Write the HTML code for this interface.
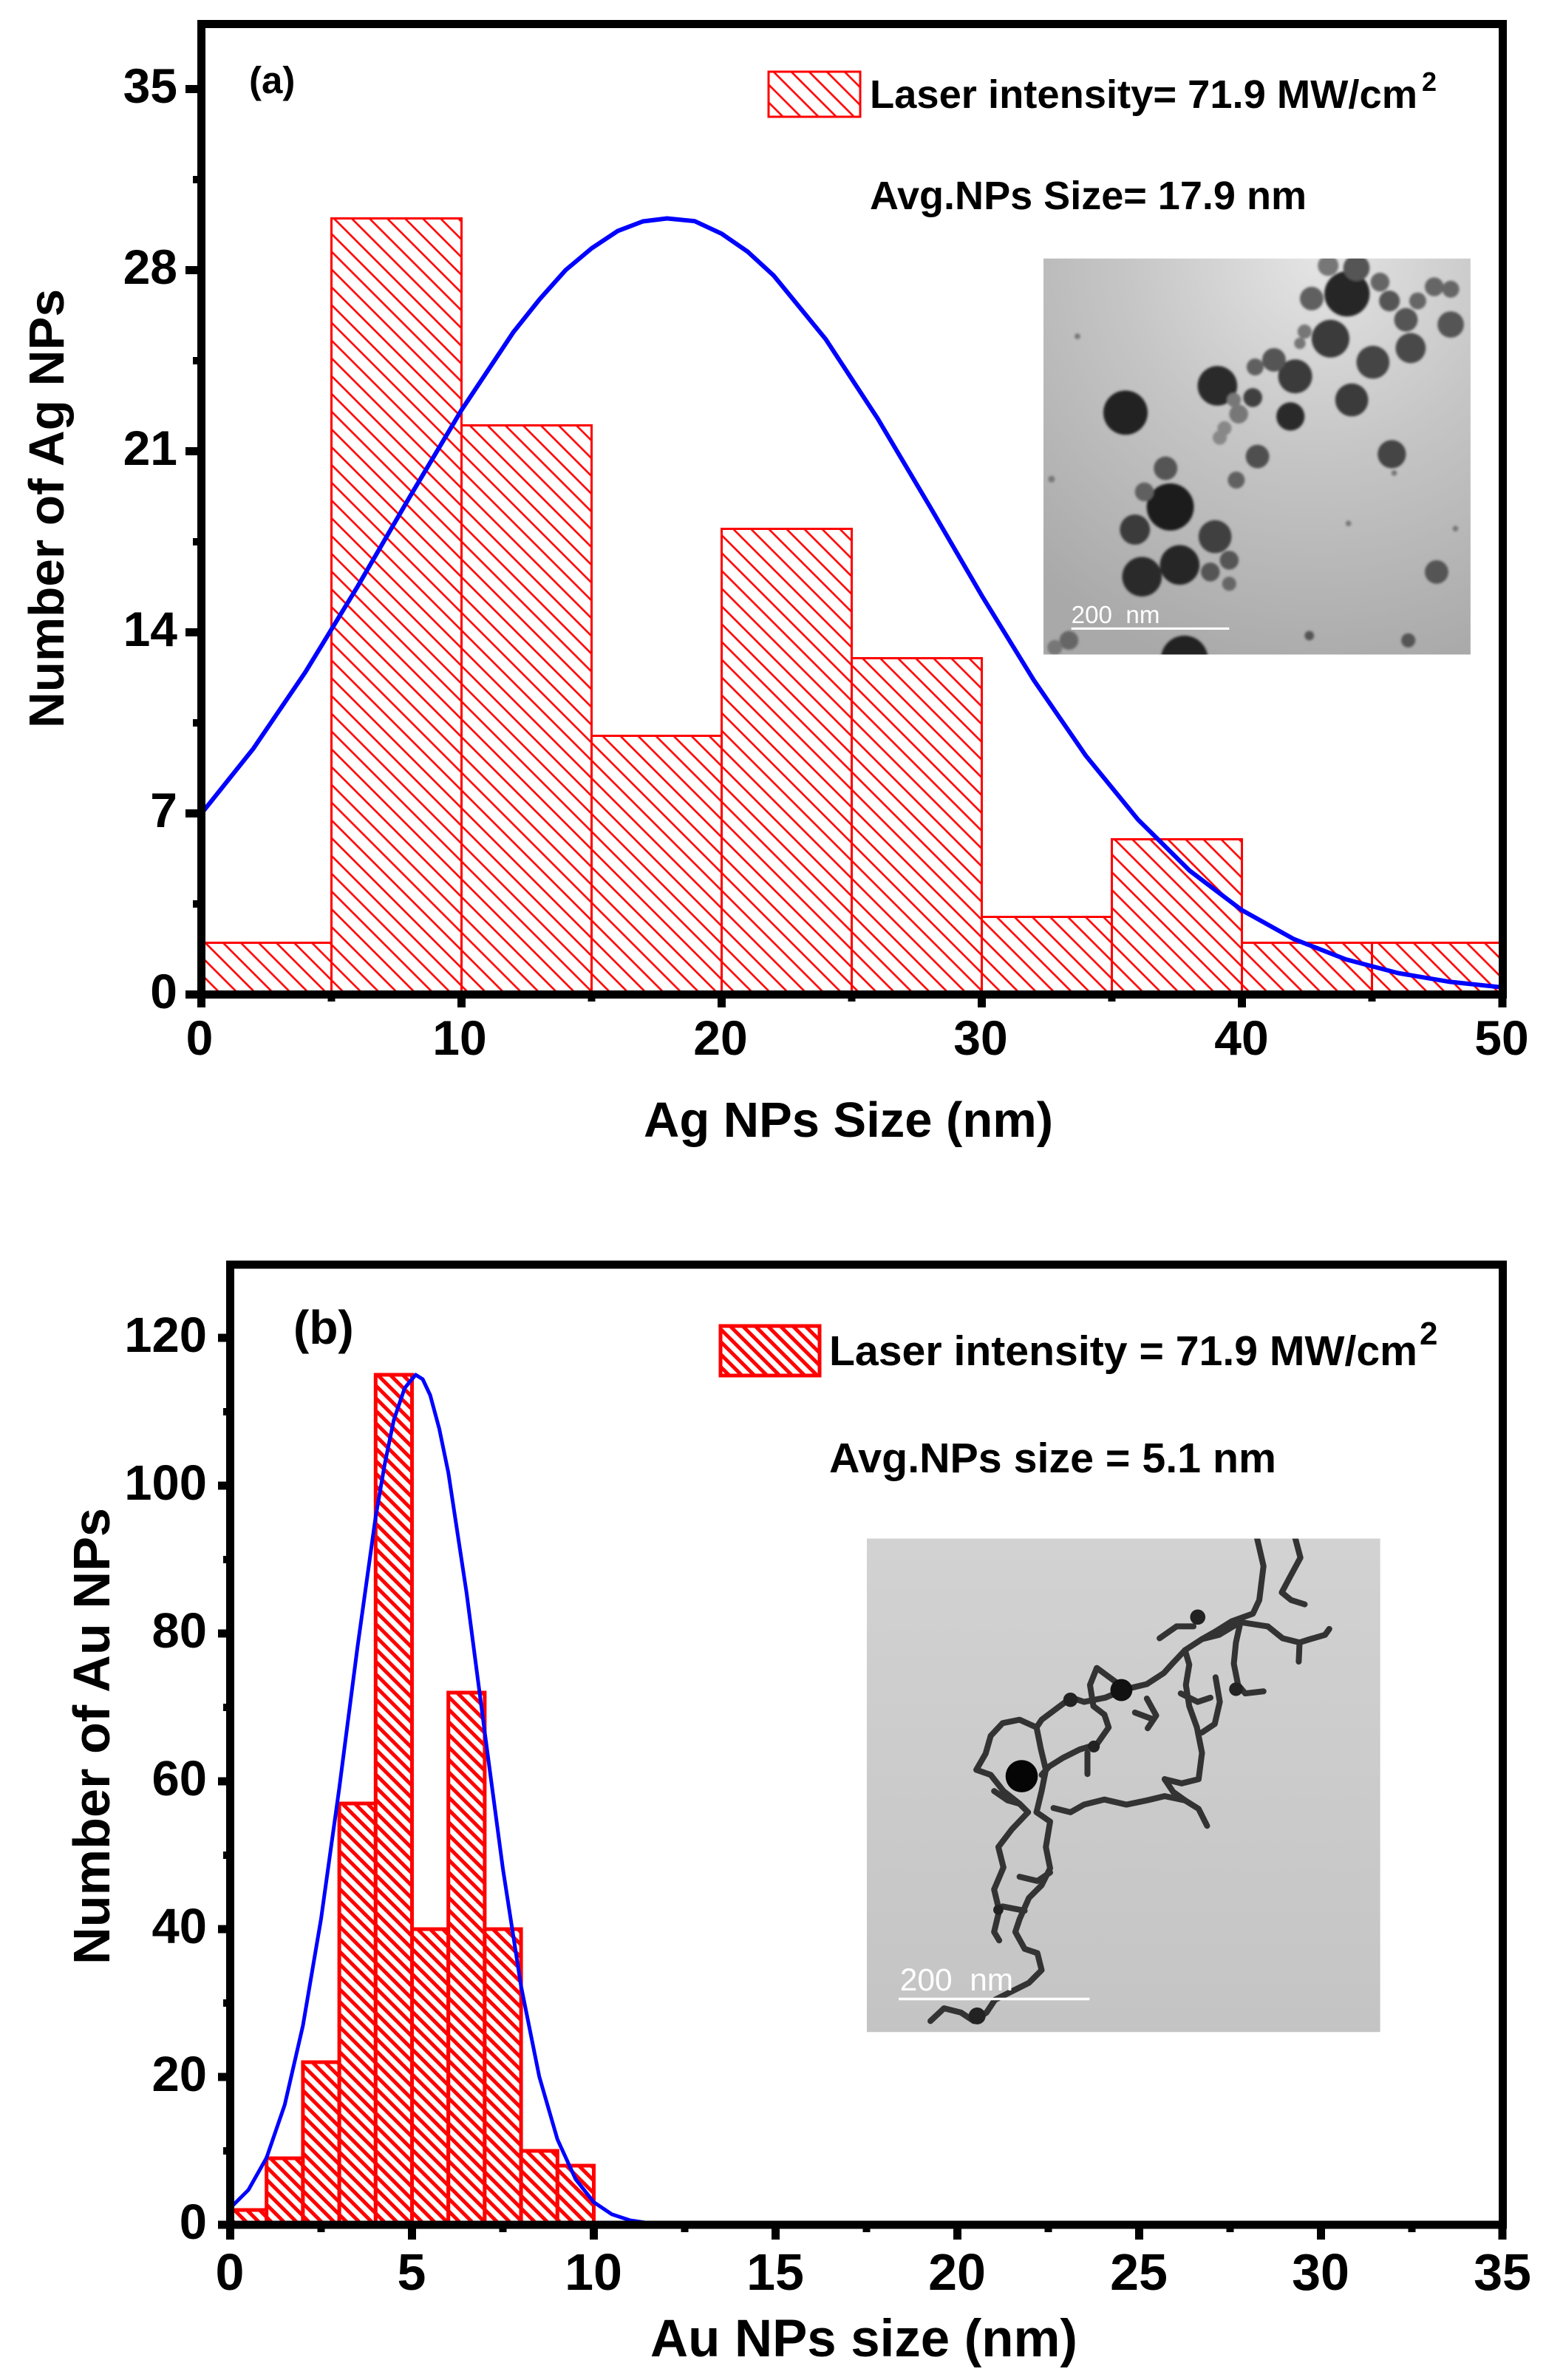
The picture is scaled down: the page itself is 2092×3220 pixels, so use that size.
<!DOCTYPE html>
<html>
<head>
<meta charset="utf-8">
<style>
html,body{margin:0;padding:0;background:#fff;}
svg{display:block;}
text{font-family:"Liberation Sans",Arial,sans-serif;}
</style>
</head>
<body>
<svg width="2092" height="3220" viewBox="0 0 2092 3220" xmlns="http://www.w3.org/2000/svg">
<defs>
  <pattern id="ha" patternUnits="userSpaceOnUse" width="17" height="17" patternTransform="rotate(-45)">
    <rect width="17" height="17" fill="#fff"/>
    <line x1="8.5" y1="0" x2="8.5" y2="17" stroke="#ff0000" stroke-width="2.6"/>
  </pattern>
  <pattern id="hb" patternUnits="userSpaceOnUse" width="12" height="12" patternTransform="rotate(-45)">
    <rect width="12" height="12" fill="#fff"/>
    <line x1="6" y1="0" x2="6" y2="12" stroke="#ff0000" stroke-width="5"/>
  </pattern>
  <radialGradient id="bga" gradientUnits="userSpaceOnUse" cx="1230" cy="470" r="900">
    <stop offset="0" stop-color="#e4e4e4"/>
    <stop offset="0.45" stop-color="#c6c6c6"/>
    <stop offset="1" stop-color="#a9a9a9"/>
  </radialGradient>
  <linearGradient id="bgb" x1="0" y1="0" x2="0" y2="1">
    <stop offset="0" stop-color="#d2d2d2"/>
    <stop offset="1" stop-color="#c4c4c4"/>
  </linearGradient>
  <clipPath id="ca"><rect x="646" y="470" width="906" height="840"/></clipPath>
  <clipPath id="cb"><rect x="40" y="55" width="1210" height="1163"/></clipPath>
  <filter id="soft" x="-20%" y="-20%" width="140%" height="140%"><feGaussianBlur stdDeviation="2.5"/></filter>
</defs>

<!-- ================= PANEL (a) ================= -->
<g stroke="#ff0000" stroke-width="3" fill="url(#ha)">
  <rect x="272.5" y="1275.5" width="176" height="70"/>
  <rect x="448.5" y="295.5" width="176" height="1050"/>
  <rect x="624.5" y="575.5" width="176" height="770"/>
  <rect x="800.5" y="995.5" width="176" height="350"/>
  <rect x="976.5" y="715.5" width="176" height="630"/>
  <rect x="1152.5" y="890.5" width="176" height="455"/>
  <rect x="1328.5" y="1240.5" width="176" height="105"/>
  <rect x="1504.5" y="1135.5" width="176" height="210"/>
  <rect x="1680.5" y="1275.5" width="176" height="70"/>
  <rect x="1856.5" y="1275.5" width="176" height="70"/>
</g>

<!-- inset a (TEM) -->
<g transform="translate(1000,50) scale(0.6378)">
  <rect x="646" y="470" width="906" height="840" fill="url(#bga)"/>
  <g clip-path="url(#ca)" filter="url(#soft)">
    <circle cx="820" cy="797" r="47" fill="#222"/>
    <circle cx="1015" cy="740" r="42" fill="#2a2a2a"/>
    <circle cx="915" cy="997" r="50" fill="#1a1a1a"/>
    <circle cx="1290" cy="545" r="48" fill="#262626"/>
    <circle cx="1255" cy="640" r="40" fill="#3a3a3a"/>
    <circle cx="1345" cy="690" r="35" fill="#454545"/>
    <circle cx="1180" cy="720" r="36" fill="#3a3a3a"/>
    <circle cx="1170" cy="805" r="30" fill="#2a2a2a"/>
    <circle cx="1300" cy="770" r="35" fill="#3a3a3a"/>
    <circle cx="1385" cy="885" r="30" fill="#454545"/>
    <circle cx="1425" cy="660" r="32" fill="#4a4a4a"/>
    <circle cx="1415" cy="600" r="25" fill="#555"/>
    <circle cx="1510" cy="610" r="28" fill="#555"/>
    <circle cx="1310" cy="490" r="28" fill="#555"/>
    <circle cx="1135" cy="685" r="25" fill="#555"/>
    <circle cx="1095" cy="700" r="18" fill="#606060"/>
    <circle cx="1090" cy="765" r="20" fill="#404040"/>
    <circle cx="1100" cy="890" r="25" fill="#505050"/>
    <circle cx="1055" cy="940" r="18" fill="#606060"/>
    <circle cx="840" cy="1045" r="32" fill="#3a3a3a"/>
    <circle cx="855" cy="1145" r="42" fill="#2a2a2a"/>
    <circle cx="935" cy="1120" r="42" fill="#252525"/>
    <circle cx="1010" cy="1060" r="35" fill="#404040"/>
    <circle cx="1040" cy="1110" r="20" fill="#555"/>
    <circle cx="1000" cy="1135" r="20" fill="#555"/>
    <circle cx="1480" cy="1135" r="25" fill="#555"/>
    <circle cx="945" cy="1320" r="50" fill="#222"/>
    <circle cx="905" cy="915" r="25" fill="#555"/>
    <circle cx="860" cy="965" r="20" fill="#606060"/>
    <circle cx="1215" cy="555" r="25" fill="#606060"/>
    <circle cx="1475" cy="530" r="20" fill="#666"/>
    <circle cx="1510" cy="535" r="18" fill="#666"/>
    <circle cx="1380" cy="560" r="22" fill="#555"/>
    <circle cx="1360" cy="520" r="20" fill="#666"/>
    <circle cx="1250" cy="485" r="22" fill="#777"/>
    <circle cx="1440" cy="560" r="18" fill="#666"/>
    <circle cx="1060" cy="800" r="20" fill="#777"/>
    <circle cx="1030" cy="830" r="15" fill="#888"/>
    <circle cx="1020" cy="850" r="15" fill="#888"/>
    <circle cx="1050" cy="770" r="15" fill="#777"/>
    <circle cx="1200" cy="625" r="15" fill="#777"/>
    <circle cx="1190" cy="650" r="12" fill="#777"/>
    <circle cx="1040" cy="1160" r="15" fill="#666"/>
    <circle cx="700" cy="1280" r="20" fill="#666"/>
    <circle cx="670" cy="1295" r="16" fill="#777"/>
    <circle cx="1420" cy="1280" r="15" fill="#555"/>
    <circle cx="1210" cy="1270" r="10" fill="#555"/>
    <circle cx="718" cy="635" r="6" fill="#777"/>
    <circle cx="663" cy="938" r="7" fill="#777"/>
    <circle cx="1293" cy="1032" r="6" fill="#777"/>
    <circle cx="1520" cy="1043" r="6" fill="#777"/>
    <circle cx="1390" cy="925" r="6" fill="#777"/>
  </g>
  <line x1="705" y1="1255" x2="1040" y2="1255" stroke="#fff" stroke-width="5"/>
  <text x="705" y="1243" font-size="52" fill="#fff" xml:space="preserve">200  nm</text>
</g>

<!-- gaussian a -->
<polyline fill="none" stroke="#0000ff" stroke-width="6" stroke-linejoin="round" stroke-linecap="round"
 points="272.5,1100.8 342.9,1012.7 413.3,909.2 483.7,793.8 554.1,672.9 624.5,554.8 694.9,449.1 730.1,405 765.3,365.5 800.5,336 835.7,312.6 870,299.5 902.6,295.5 940,299.2 976.5,316.2 1011.7,340.5 1046.9,372.8 1117.3,458.9 1187.7,566.4 1258.1,685 1328.5,805.8 1398.9,920.2 1469.3,1022.4 1539.7,1108.6 1610.1,1178.2 1680.5,1231.4 1750.9,1270.6 1821.3,1298 1891.7,1316.5 1962.1,1328.4 2032.5,1335.8"/>

<!-- frame a -->
<rect x="272.5" y="32.5" width="1761" height="1313" fill="none" stroke="#000" stroke-width="11"/>
<g stroke="#000" stroke-width="11">
  <line x1="251" y1="1345.5" x2="272" y2="1345.5"/>
  <line x1="251" y1="1100.5" x2="272" y2="1100.5"/>
  <line x1="251" y1="855.5" x2="272" y2="855.5"/>
  <line x1="251" y1="610.5" x2="272" y2="610.5"/>
  <line x1="251" y1="365.5" x2="272" y2="365.5"/>
  <line x1="251" y1="120.5" x2="272" y2="120.5"/>
  <line x1="272.5" y1="1346" x2="272.5" y2="1363"/>
  <line x1="624.5" y1="1346" x2="624.5" y2="1363"/>
  <line x1="976.5" y1="1346" x2="976.5" y2="1363"/>
  <line x1="1328.5" y1="1346" x2="1328.5" y2="1363"/>
  <line x1="1680.5" y1="1346" x2="1680.5" y2="1363"/>
  <line x1="2033" y1="1346" x2="2033" y2="1363"/>
</g>
<g stroke="#000" stroke-width="10">
  <line x1="261" y1="1223" x2="272" y2="1223"/>
  <line x1="261" y1="978" x2="272" y2="978"/>
  <line x1="261" y1="733" x2="272" y2="733"/>
  <line x1="261" y1="488" x2="272" y2="488"/>
  <line x1="261" y1="243" x2="272" y2="243"/>
  <line x1="448.5" y1="1346" x2="448.5" y2="1355"/>
  <line x1="800.5" y1="1346" x2="800.5" y2="1355"/>
  <line x1="1152.5" y1="1346" x2="1152.5" y2="1355"/>
  <line x1="1504.5" y1="1346" x2="1504.5" y2="1355"/>
  <line x1="1856.5" y1="1346" x2="1856.5" y2="1355"/>
</g>
<g font-size="66" font-weight="bold" fill="#000" text-anchor="end">
  <text x="240" y="1364">0</text>
  <text x="240" y="1119">7</text>
  <text x="240" y="874">14</text>
  <text x="240" y="629">21</text>
  <text x="240" y="384">28</text>
  <text x="240" y="139">35</text>
</g>
<g font-size="66" font-weight="bold" fill="#000" text-anchor="middle">
  <text x="270" y="1427">0</text>
  <text x="622" y="1427">10</text>
  <text x="975" y="1427">20</text>
  <text x="1327" y="1427">30</text>
  <text x="1680" y="1427">40</text>
  <text x="2032" y="1427">50</text>
</g>
<text x="871" y="1538" font-size="67" font-weight="bold" textLength="554" lengthAdjust="spacingAndGlyphs">Ag NPs Size (nm)</text>
<text transform="translate(86,688) rotate(-90)" text-anchor="middle" font-size="67" font-weight="bold" textLength="594" lengthAdjust="spacingAndGlyphs">Number of Ag NPs</text>
<text x="337" y="126" font-size="51" font-weight="bold">(a)</text>

<!-- legend a -->
<rect x="1040" y="97" width="124" height="61" fill="url(#ha)" stroke="#ff0000" stroke-width="3"/>
<text x="1177" y="146" font-size="54" font-weight="bold" textLength="741" lengthAdjust="spacingAndGlyphs">Laser intensity= 71.9 MW/cm</text>
<text x="1924" y="123" font-size="36" font-weight="bold">2</text>
<text x="1177" y="283" font-size="54" font-weight="bold" textLength="591" lengthAdjust="spacingAndGlyphs">Avg.NPs Size= 17.9 nm</text>

<!-- ================= PANEL (b) ================= -->
<g stroke="#ff0000" stroke-width="5" fill="url(#hb)">
  <rect x="311.5" y="2990" width="49.2" height="20"/>
  <rect x="360.7" y="2920" width="49.2" height="90"/>
  <rect x="409.9" y="2790" width="49.2" height="220"/>
  <rect x="459.1" y="2440" width="49.2" height="570"/>
  <rect x="508.3" y="1860" width="49.2" height="1150"/>
  <rect x="557.5" y="2610" width="49.2" height="400"/>
  <rect x="606.7" y="2290" width="49.2" height="720"/>
  <rect x="655.9" y="2610" width="49.2" height="400"/>
  <rect x="705.1" y="2910" width="49.2" height="100"/>
  <rect x="754.3" y="2930" width="49.2" height="80"/>
</g>

<!-- inset b (TEM) -->
<g transform="translate(1150,2050) scale(0.5741)">
  <rect x="40" y="55" width="1210" height="1163" fill="url(#bgb)"/>
  <g clip-path="url(#cb)" fill="none" stroke="#333" stroke-width="14" stroke-linejoin="round" stroke-linecap="round">
    <path d="M960,55 L975,120 L965,200 L950,232 L900,250 L860,275 L830,292 L790,318 L760,350 L740,372 L700,398 L650,410"/>
    <path d="M1050,55 L1062,100 L1035,150 L1018,182 L1040,200 L1072,210"/>
    <path d="M985,262 L1020,290 L1060,300 L1085,292 L1120,282 L1130,268"/>
    <path d="M1060,300 L1058,345"/>
    <path d="M830,292 L870,282 L920,252 L985,262"/>
    <path d="M920,255 L910,300 L905,350 L915,400 L932,420 L975,415"/>
    <path d="M790,318 L800,352 L792,400 L800,450 L818,500 L830,560 L822,622 L782,632 L742,622"/>
    <path d="M862,382 L872,440 L860,492 L830,512"/>
    <path d="M650,410 L612,382 L582,360 L566,400 L574,450 L600,470"/>
    <path d="M600,470 L610,500 L582,540 L542,552 L502,572 L470,592 L452,612"/>
    <path d="M650,410 L602,430 L552,440 L522,430 L492,452 L452,482 L440,500"/>
    <path d="M440,500 L400,482 L360,490 L332,520 L320,562 L298,600 L332,612 L362,650 L400,680 L420,700"/>
    <path d="M440,500 L450,550 L462,600 L452,650 L440,700"/>
    <path d="M420,700 L382,740 L350,782 L362,830 L340,882 L352,932 L340,982 L352,1002"/>
    <path d="M440,700 L472,722 L462,782 L472,832 L452,872 L422,902 L400,952 L390,982 L412,1022 L442,1032 L452,1072 L422,1102 L382,1122 L342,1142 L322,1172 L292,1192 L262,1172 L222,1162 L190,1192"/>
    <path d="M480,690 L520,700 L552,682 L600,670 L652,682 L700,672 L742,662 L790,672 L822,692 L842,732"/>
    <path d="M742,622 L762,652 L790,672"/>
    <path d="M700,432 L722,472 L702,502"/>
    <path d="M730,290 L770,262 L810,262"/>
    <path d="M400,852 L442,862 L472,842"/>
    <path d="M360,922 L412,932"/>
    <path d="M672,465 L712,480"/>
    <path d="M780,420 L820,440 L850,430"/>
    <path d="M560,560 L560,610"/>
    <path d="M340,650 L372,672 L400,680"/>
  </g>
  <g clip-path="url(#cb)" fill="#111">
    <circle cx="405" cy="615" r="38" fill="#050505"/>
    <circle cx="640" cy="412" r="26"/>
    <circle cx="820" cy="240" r="18" fill="#222"/>
    <circle cx="910" cy="410" r="16" fill="#222"/>
    <circle cx="520" cy="435" r="17" fill="#222"/>
    <circle cx="575" cy="545" r="14" fill="#222"/>
    <circle cx="300" cy="1180" r="20" fill="#222"/>
    <circle cx="350" cy="930" r="12" fill="#222"/>
  </g>
  <line x1="115" y1="1140" x2="565" y2="1140" stroke="#fff" stroke-width="6"/>
  <text x="118" y="1120" font-size="74" fill="#fff" xml:space="preserve">200  nm</text>
</g>

<!-- gaussian b -->
<polyline fill="none" stroke="#0000ff" stroke-width="5" stroke-linejoin="round" stroke-linecap="round"
 points="311.5,2987.4 336.1,2962.9 360.7,2919.3 385.3,2847.6 409.9,2740.6 434.5,2595.8 459.1,2419.2 483.7,2228.8 508.3,2052.2 520.6,1981 532.9,1921.2 547.6,1878 562.4,1860 572,1866 582.1,1887.5 594.4,1933 606.7,1992.5 631.3,2154.7 655.9,2343.3 680.5,2528.3 705.1,2687.2 729.7,2809.4 754.3,2894.4 778.9,2948.3 803.5,2979.4 828.1,2995.9 852.7,3004 877.3,3007.6"/>

<!-- frame b -->
<rect x="311.5" y="1711" width="1722" height="1299" fill="none" stroke="#000" stroke-width="11"/>
<g stroke="#000" stroke-width="11">
  <line x1="295" y1="3010" x2="311" y2="3010"/>
  <line x1="295" y1="2810" x2="311" y2="2810"/>
  <line x1="295" y1="2610" x2="311" y2="2610"/>
  <line x1="295" y1="2410" x2="311" y2="2410"/>
  <line x1="295" y1="2210" x2="311" y2="2210"/>
  <line x1="295" y1="2010" x2="311" y2="2010"/>
  <line x1="295" y1="1810" x2="311" y2="1810"/>
  <line x1="311.5" y1="3010" x2="311.5" y2="3030"/>
  <line x1="557.5" y1="3010" x2="557.5" y2="3030"/>
  <line x1="803.5" y1="3010" x2="803.5" y2="3030"/>
  <line x1="1049.5" y1="3010" x2="1049.5" y2="3030"/>
  <line x1="1295.5" y1="3010" x2="1295.5" y2="3030"/>
  <line x1="1541.5" y1="3010" x2="1541.5" y2="3030"/>
  <line x1="1787.5" y1="3010" x2="1787.5" y2="3030"/>
  <line x1="2033" y1="3010" x2="2033" y2="3030"/>
</g>
<g stroke="#000" stroke-width="10">
  <line x1="302" y1="2910" x2="311" y2="2910"/>
  <line x1="302" y1="2710" x2="311" y2="2710"/>
  <line x1="302" y1="2510" x2="311" y2="2510"/>
  <line x1="302" y1="2310" x2="311" y2="2310"/>
  <line x1="302" y1="2110" x2="311" y2="2110"/>
  <line x1="302" y1="1910" x2="311" y2="1910"/>
  <line x1="434.5" y1="3010" x2="434.5" y2="3020"/>
  <line x1="680.5" y1="3010" x2="680.5" y2="3020"/>
  <line x1="926.5" y1="3010" x2="926.5" y2="3020"/>
  <line x1="1172.5" y1="3010" x2="1172.5" y2="3020"/>
  <line x1="1418.5" y1="3010" x2="1418.5" y2="3020"/>
  <line x1="1664.5" y1="3010" x2="1664.5" y2="3020"/>
  <line x1="1910.5" y1="3010" x2="1910.5" y2="3020"/>
</g>
<g font-size="67" font-weight="bold" fill="#000" text-anchor="end">
  <text x="280" y="3029">0</text>
  <text x="280" y="2829">20</text>
  <text x="280" y="2629">40</text>
  <text x="280" y="2429">60</text>
  <text x="280" y="2229">80</text>
  <text x="280" y="2029">100</text>
  <text x="280" y="1829">120</text>
</g>
<g font-size="70" font-weight="bold" fill="#000" text-anchor="middle">
  <text x="311" y="3098">0</text>
  <text x="557" y="3098">5</text>
  <text x="803" y="3098">10</text>
  <text x="1049" y="3098">15</text>
  <text x="1295" y="3098">20</text>
  <text x="1541" y="3098">25</text>
  <text x="1787" y="3098">30</text>
  <text x="2033" y="3098">35</text>
</g>
<text x="880" y="3188" font-size="71" font-weight="bold" textLength="578" lengthAdjust="spacingAndGlyphs">Au NPs size (nm)</text>
<text transform="translate(148,2349) rotate(-90)" text-anchor="middle" font-size="70" font-weight="bold" textLength="618" lengthAdjust="spacingAndGlyphs">Number of Au NPs</text>
<text x="397" y="1818" font-size="64" font-weight="bold">(b)</text>

<!-- legend b -->
<rect x="975" y="1794" width="134" height="67" fill="url(#hb)" stroke="#ff0000" stroke-width="5"/>
<text x="1122" y="1847" font-size="57" font-weight="bold" textLength="796" lengthAdjust="spacingAndGlyphs">Laser intensity = 71.9 MW/cm</text>
<text x="1921" y="1819" font-size="44" font-weight="bold">2</text>
<text x="1122" y="1992" font-size="57" font-weight="bold" textLength="605" lengthAdjust="spacingAndGlyphs">Avg.NPs size = 5.1 nm</text>
</svg>
</body>
</html>
